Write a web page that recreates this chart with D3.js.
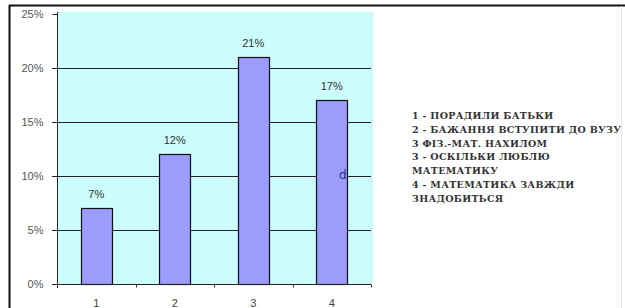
<!DOCTYPE html>
<html>
<head>
<meta charset="utf-8">
<script src="https://cdn.jsdelivr.net/npm/d3@7"></script>
<style>
	body { margin: 0; background: #fff; }
	svg { display: block; }
</style>
</head>
<body>
<div id="chart"></div>
<script>
var categories = ["1", "2", "3", "4"];
var values = [0.07, 0.12, 0.21, 0.17];
var yTicks = [0, 0.05, 0.10, 0.15, 0.20, 0.25];
var legendLines = [
	"1 - ПОРАДИЛИ БАТЬКИ",
	"2 - БАЖАННЯ ВСТУПИТИ ДО ВУЗУ",
	"3 ФІЗ.-МАТ. НАХИЛОМ",
	"3 - ОСКІЛЬКИ ЛЮБЛЮ",
	"МАТЕМАТИКУ",
	"4 - МАТЕМАТИКА ЗАВЖДИ",
	"ЗНАДОБИТЬСЯ"
];

var width = 625,
	height = 308;

var svg = d3.select("#chart")
	.append("svg")
	.attr("width", width)
	.attr("height", height);

// outer frame
svg.append("line").attr("x1", 9).attr("x2", 625).attr("y1", 5.5).attr("y2", 5.5)
	.attr("stroke", "#111").attr("stroke-width", 2);
svg.append("line").attr("x1", 9.5).attr("x2", 9.5).attr("y1", 5).attr("y2", 308)
	.attr("stroke", "#111").attr("stroke-width", 2);
svg.append("line").attr("x1", 621.5).attr("x2", 621.5).attr("y1", 6).attr("y2", 308)
	.attr("stroke", "#e4e4e4").attr("stroke-width", 1);

var x = d3.scaleBand()
	.domain(categories)
	.range([57, 371])
	.paddingInner(0.6)
	.paddingOuter(0.3);

var y = d3.scaleLinear()
	.domain([0, 0.25])
	.range([284, 14]);

// plot background
svg.append("rect")
	.attr("x", 57)
	.attr("y", 12)
	.attr("width", 316)
	.attr("height", 272)
	.attr("fill", "#ccfcfc");

// gridlines
svg.append("g")
	.selectAll("line")
	.data(yTicks.filter(function (d) { return d > 0 && d < 0.25; }))
	.enter()
	.append("line")
	.attr("x1", 52)
	.attr("x2", 371)
	.attr("y1", function (d) { return Math.round(y(d)) + 0.5; })
	.attr("y2", function (d) { return Math.round(y(d)) + 0.5; })
	.attr("stroke", "#222")
	.attr("stroke-width", 1);

// bars
svg.append("g")
	.selectAll("rect")
	.data(values)
	.enter()
	.append("rect")
	.attr("x", function (d, i) { return Math.round(x(categories[i])) + 0.5; })
	.attr("y", function (d) { return Math.round(y(d)) + 0.5; })
	.attr("width", Math.round(x.bandwidth()))
	.attr("height", function (d) { return Math.round(y(0)) - Math.round(y(d)); })
	.attr("fill", "#9c9cfc")
	.attr("stroke", "#111")
	.attr("stroke-width", 1.2);

// value labels
svg.append("g")
	.selectAll("text")
	.data(values)
	.enter()
	.append("text")
	.attr("x", function (d, i) { return x(categories[i]) + x.bandwidth() / 2; })
	.attr("y", function (d) { return y(d) - 10; })
	.attr("text-anchor", "middle")
	.attr("font-family", "Liberation Sans, Arial, sans-serif")
	.attr("font-size", 11)
	.attr("fill", "#333")
	.text(function (d) { return Math.round(d * 100) + "%"; });

// y axis
var yAxis = svg.append("g")
	.attr("transform", "translate(57.5,0)")
	.call(d3.axisLeft(y)
		.tickValues(yTicks)
		.tickSize(5)
		.tickPadding(9)
		.tickFormat(d3.format(".0%")));
yAxis.select(".domain").attr("stroke", "#222").attr("d", "M0,12V288");
yAxis.selectAll(".tick line").attr("stroke", "#222");
yAxis.selectAll("text")
	.attr("font-family", "Liberation Sans, Arial, sans-serif")
	.attr("font-size", 11)
	.attr("fill", "#555");

// x axis
var xAxis = svg.append("g")
	.attr("transform", "translate(0,284.5)")
	.call(d3.axisBottom(x).tickSize(0).tickPadding(15));
xAxis.select(".domain").attr("stroke", "#222").attr("d", "M52,0H371");
xAxis.selectAll("text")
	.attr("font-family", "Liberation Sans, Arial, sans-serif")
	.attr("font-size", 11)
	.attr("fill", "#444");
xAxis.selectAll(".sep")
	.data(categories.concat(["end"]))
	.enter()
	.append("line")
	.attr("class", "sep")
	.attr("x1", function (d, i) { return Math.round(x(categories[0]) - x.step() * 0.3 + i * x.step()) + 0.5; })
	.attr("x2", function (d, i) { return Math.round(x(categories[0]) - x.step() * 0.3 + i * x.step()) + 0.5; })
	.attr("y1", 0)
	.attr("y2", 3)
	.attr("stroke", "#333");

// stray mark in the source picture
svg.append("text")
	.attr("x", 339)
	.attr("y", 179)
	.attr("font-family", "DejaVu Sans, sans-serif")
	.attr("font-size", 12)
	.attr("fill", "#2e2e80")
	.text("d");

// legend
svg.append("g")
	.selectAll("text")
	.data(legendLines)
	.enter()
	.append("text")
	.attr("x", 412)
	.attr("y", function (d, i) { return 119 + i * 13.8; })
	.attr("font-family", "DejaVu Serif, serif")
	.attr("font-weight", "bold")
	.attr("font-size", 9.5)
	.attr("letter-spacing", 0.3)
	.attr("fill", "#333")
	.text(function (d) { return d; });
</script>
</body>
</html>
